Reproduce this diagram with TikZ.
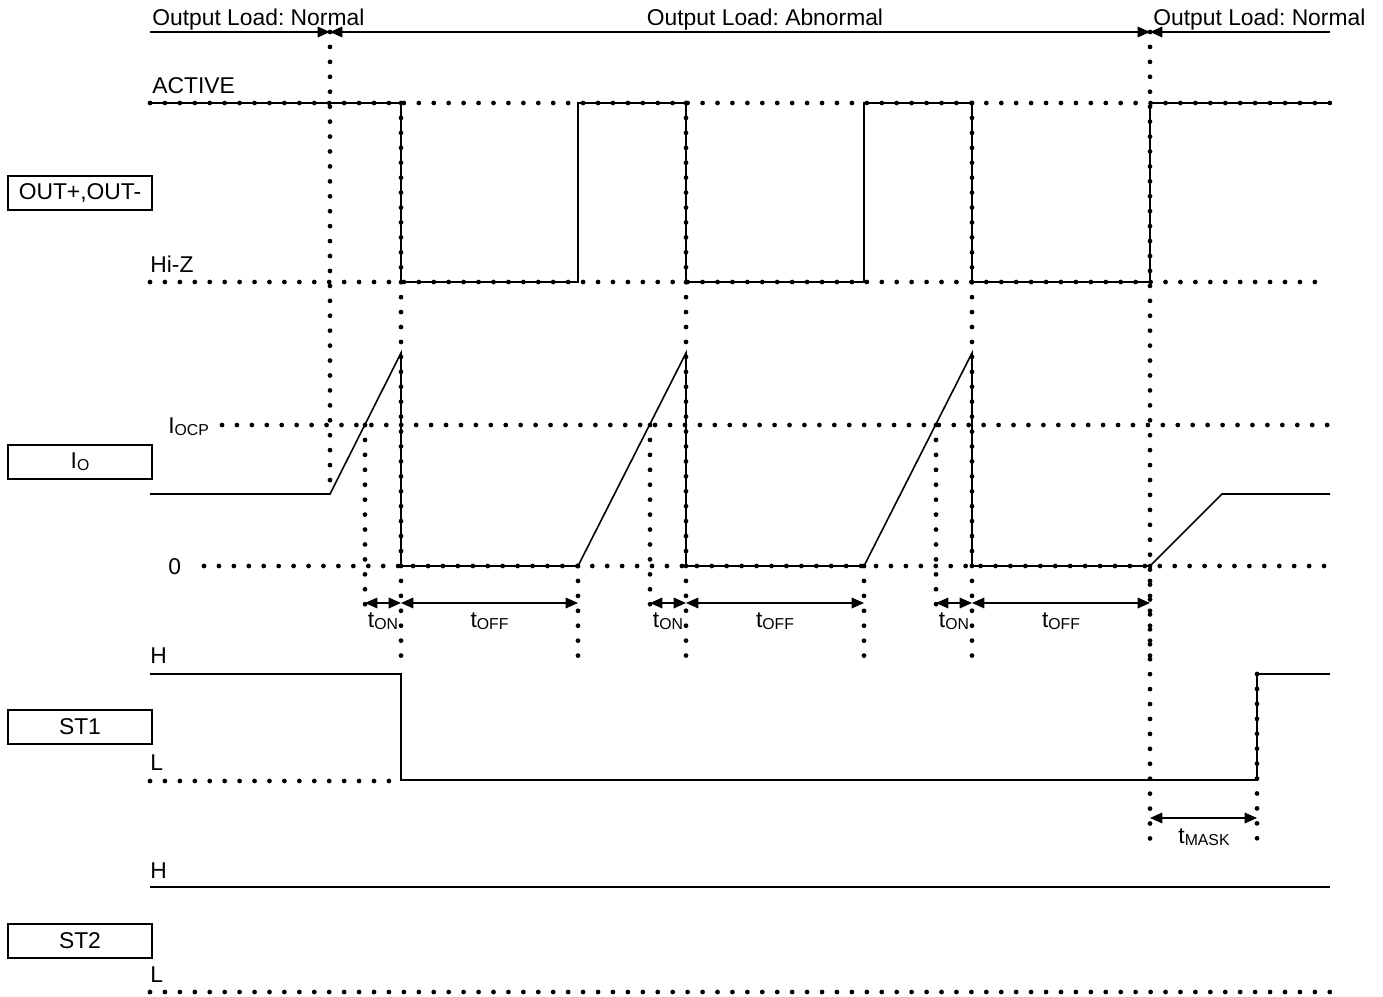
\documentclass[tikz,border=0pt]{standalone}
\usepackage{fontspec}
\setmainfont{Liberation Sans}
\usetikzlibrary{arrows.meta}
\frenchspacing
\newcommand{\lowsub}[1]{\raisebox{-0.2ex}{\fontsize{9}{10}\selectfont #1}}
\tikzset{
  dotline/.style={line width=2.7pt, line cap=round, dash pattern=on 0pt off 8.5pt},
  wave/.style={line width=0.9pt},
  sigbox/.style={draw, line width=0.9pt, minimum width=2.88cm, minimum height=0.68cm, inner sep=0pt},
  lbl/.style={anchor=base west, inner sep=0pt},
  tip/.style={line width=0.9pt, {Triangle[length=7pt,width=6pt]}-{Triangle[length=7pt,width=6pt]}}
}
\begin{document}
\begin{tikzpicture}[x=0.02cm, y=-0.02cm, every node/.style={font=\fontsize{13}{15}\selectfont}]
\useasboundingbox (0,0) rectangle (1383,997);
% signal names
\node[sigbox] (outbox) at (80,193) {OUT+,OUT-};
\node[sigbox] (iobox) at (80,462) {I\lowsub{O}};
\node[sigbox] (stonebox) at (80,727) {ST1};
\node[sigbox] (sttwobox) at (80,941) {ST2};
% load phases
\coordinate (ldA) at (150,32); \coordinate (ldB) at (330,32);
\coordinate (ldC) at (1150,32); \coordinate (ldD) at (1330,32);
\draw[line width=0.9pt, -{Triangle[length=7pt,width=6pt]}] (ldA) -- (ldB);
\draw[tip] (ldB) -- (ldC);
\draw[line width=0.9pt, {Triangle[length=7pt,width=6pt]}-] (ldC) -- (ldD);
\node[lbl] (ldnormA) at (152,26) {Output Load: Normal};
\node[anchor=base, inner sep=0pt] (ldabn) at (765,26) {Output Load: Abnormal};
\node[lbl] (ldnormB) at (1153,26) {Output Load: Normal};
% levels
\node[lbl] (lvact) at (152,93) {ACTIVE};
\node[lbl] (lvhiz) at (150,272) {Hi-Z};
\node[lbl] (lvocp) at (168,433) {I\lowsub{OCP}};
\node[lbl] (lvzero) at (168,574) {0};
\node[lbl] (lvhone) at (150,663) {H};
\node[lbl] (lvlone) at (150,770) {L};
\node[lbl] (lvhtwo) at (150,878) {H};
\node[lbl] (lvltwo) at (150,982) {L};
\draw[dotline] (150,103) -- (1330,103);
\draw[dotline] (150,282) -- (1320,282);
\draw[dotline] (222,425) -- (1330,425);
\draw[dotline] (204,566) -- (1330,566);
\draw[dotline] (150,781) -- (401,781);
\draw[dotline] (150,992) -- (1330,992);
% timing marks
\draw[dotline] (330,32) -- (330,494);
\draw[dotline] (1150,32) -- (1150,850);
\draw[dotline] (1257,674) -- (1257,845);
\foreach \on/\f/\r in {365/401/578, 650/686/864, 936/972/1150} {
  \draw[dotline] (\on,425) -- (\on,608);
  \draw[dotline] (\f,103) -- (\f,668);
  \draw[dotline] (\r,566) -- (\r,662);
  \draw[tip] (\on,603) -- (\f,603);
  \draw[tip] (\f,603) -- (\r,603);
  \node[anchor=base, inner sep=0pt] at ({(\on+\f)/2},627) {t\lowsub{ON}};
  \node[anchor=base, inner sep=0pt] at ({(\f+\r)/2},627) {t\lowsub{OFF}};
}
\draw[tip] (1150,818) -- (1257,818);
\node[anchor=base, inner sep=0pt] (tmask) at (1204,843) {t\lowsub{MASK}};
% waveforms
\draw[wave] (150,103) -- (401,103) -- (401,282) -- (578,282) -- (578,103) -- (686,103) -- (686,282) -- (864,282)
  -- (864,103) -- (972,103) -- (972,282) -- (1150,282) -- (1150,103) -- (1330,103);
\draw[wave] (150,494) -- (330,494) -- (401,353) -- (401,566) -- (578,566) -- (686,353) -- (686,566) -- (864,566)
  -- (972,353) -- (972,566) -- (1150,566) -- (1222,494) -- (1330,494);
\draw[wave] (150,674) -- (401,674) -- (401,780) -- (1257,780) -- (1257,674) -- (1330,674);
\draw[wave] (150,887) -- (1330,887);
\end{tikzpicture}
\end{document}
